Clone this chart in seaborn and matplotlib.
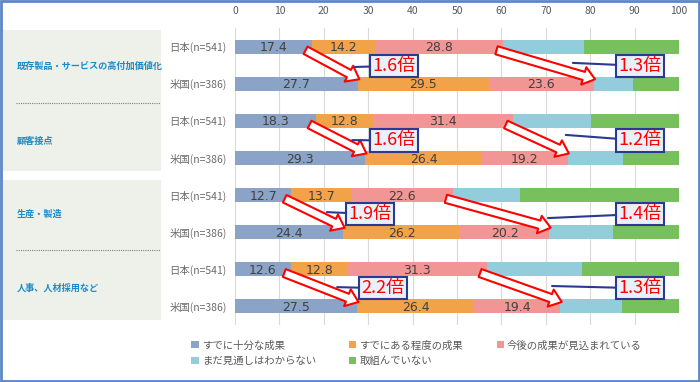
import numpy as np
import pandas as pd
import matplotlib
matplotlib.use("Agg")
import matplotlib.pyplot as plt
from matplotlib.patches import Rectangle, Patch, FancyArrowPatch, ArrowStyle
from matplotlib.lines import Line2D
import seaborn as sns

# --- data ---
groups = ["既存製品・サービスの高付加価値化", "顧客接点", "生産・製造", "人事、人材採用など"]
row_labels = ["日本(n=541)", "米国(n=386)"] * 4
series = ["すでに十分な成果", "すでにある程度の成果", "今後の成果が見込まれている",
          "まだ見通しはわからない", "取組んでいない"]
full = [17.4, 27.7, 18.3, 29.3, 12.7, 24.4, 12.6, 27.5]
some = [14.2, 29.5, 12.8, 26.4, 13.7, 26.2, 12.8, 26.4]
future = [28.8, 23.6, 31.4, 19.2, 22.6, 20.2, 31.3, 19.4]
unclear = [18.2, 8.8, 17.6, 12.4, 15.3, 14.3, 21.4, 13.8]
not_yet = [21.4, 10.4, 19.9, 12.7, 35.7, 14.9, 21.9, 12.9]
ratio_now = ["1.6倍", "1.6倍", "1.9倍", "2.2倍"]
ratio_future = ["1.3倍", "1.2倍", "1.4倍", "1.3倍"]

colors = ["#8BA3C6", "#F2A249", "#F19595", "#93CDDC", "#78BF5E"]
W, H = 700, 382
FONT = ["Noto Sans CJK JP", "DejaVu Sans"]

sns.set_style("white")
plt.rcParams["font.family"] = FONT

fig = plt.figure(figsize=(7, 3.82), dpi=100)
ax = fig.add_axes([235 / W, 1 - 325 / H, 444 / W, 297 / H])
ax.set_facecolor("none")

vals = np.array([full, some, future, unclear, not_yet])
cum = np.cumsum(vals, axis=0)
rows = list(range(len(row_labels)))

# stacked bars: draw cumulative totals from the back
for i in reversed(range(len(series))):
    df = pd.DataFrame({"row": rows, "value": cum[i]})
    sns.barplot(data=df, x="value", y="row", orient="h", color=colors[i],
                saturation=1, width=0.38, errorbar=None, linewidth=0,
                ax=ax, zorder=2)

ax.set_xlim(0, 100)
ax.set_ylim(7.5, -0.5)
ax.set_xticks(range(0, 101, 10))
ax.xaxis.tick_top()
ax.set_yticks(rows)
ax.set_yticklabels(row_labels)
ax.set_xlabel("")
ax.set_ylabel("")
ax.tick_params(axis="x", length=0, pad=9, labelsize=7.5, colors="#595959")
ax.tick_params(axis="y", length=0, pad=6, labelsize=7.5, colors="#6b6b6b")
ax.grid(axis="x", color="#d9d9d9", lw=0.8)
ax.set_axisbelow(True)
for s in ax.spines.values():
    s.set_visible(False)

# value labels on first three segments
for i in range(3):
    for r in rows:
        ax.text(cum[i][r] - vals[i][r] / 2, r + 0.03, f"{vals[i][r]:.1f}",
                ha="center", va="center", fontsize=9, color="#404040",
                family=["DejaVu Sans"], zorder=4)

# fat arrows Japan -> US
style = ArrowStyle.Simple(head_length=8.5, head_width=13, tail_width=6)
for g in range(4):
    jp, us = 2 * g, 2 * g + 1
    for k in (0, 2):
        arr = FancyArrowPatch(posA=(cum[k][jp] - 1.5, jp + 0.1),
                              posB=(cum[k][us] + 0.3, us - 0.12),
                              arrowstyle=style, mutation_scale=1,
                              fc="white", ec="#FF0000", lw=1.5,
                              shrinkA=0, shrinkB=0, zorder=5)
        ax.add_patch(arr)

# callout boxes
left_box = [(35.8, 0.52), (35.8, 2.53), (30.4, 4.51), (33.3, 6.51)]
left_ptr = [(27.0, 0.55), (26.4, 2.52), (20.7, 4.46), (23.0, 6.48)]
right_box = [(91.2, 0.52), (91.2, 2.53), (91.2, 4.51), (91.2, 6.51)]
right_ptr = [(76.1, 0.44), (74.5, 2.38), (70.5, 4.62), (71.4, 6.45)]
for texts, boxes, ptrs in ((ratio_now, left_box, left_ptr),
                           (ratio_future, right_box, right_ptr)):
    for t, b, p in zip(texts, boxes, ptrs):
        ax.annotate(t, xy=p, xytext=b, ha="center", va="center",
                    fontsize=13, color="#FF0000", zorder=6,
                    bbox=dict(boxstyle="square,pad=0.12", fc="#EAF0FA",
                              ec="#2B3990", lw=1.5),
                    arrowprops=dict(arrowstyle="-", color="#2B3990", lw=1.5,
                                    shrinkA=0, shrinkB=0))

# left panel
for y0, y1 in ((30, 171), (180, 320)):
    fig.add_artist(Rectangle((3 / W, 1 - y1 / H), 158 / W, (y1 - y0) / H,
                             transform=fig.transFigure, fc="#EEF0EA",
                             ec="none", zorder=0))
for yy in (103, 250):
    fig.add_artist(Line2D([16 / W, 160 / W], [1 - yy / H, 1 - yy / H],
                          transform=fig.transFigure, color="#7f7f7f",
                          lw=0.8, ls=(0, (1, 1))))
for name, yy in zip(groups, (66, 141, 214, 288)):
    fig.text(17 / W, 1 - yy / H, name, ha="left", va="center",
             fontsize=6.6, fontweight="bold", color="#1E8BC6")

# legend (row-wise order)
handles = [Patch(fc=c, ec="none") for c in colors]
order = [0, 3, 1, 4, 2]
fig.legend([handles[i] for i in order], [series[i] for i in order],
           loc="upper left", bbox_to_anchor=(186 / W, 1 - 335 / H),
           ncol=3, frameon=False, fontsize=7.5, labelcolor="#595959",
           handlelength=0.7, handleheight=0.7, handletextpad=0.3,
           columnspacing=3.2, labelspacing=0.55, borderpad=0)

# outer frame
fig.add_artist(Rectangle((0.001, 0.002), 0.998, 0.996,
                         transform=fig.transFigure, fill=False,
                         ec="#5B86C8", lw=2))

fig.savefig("out.png", dpi=100)
